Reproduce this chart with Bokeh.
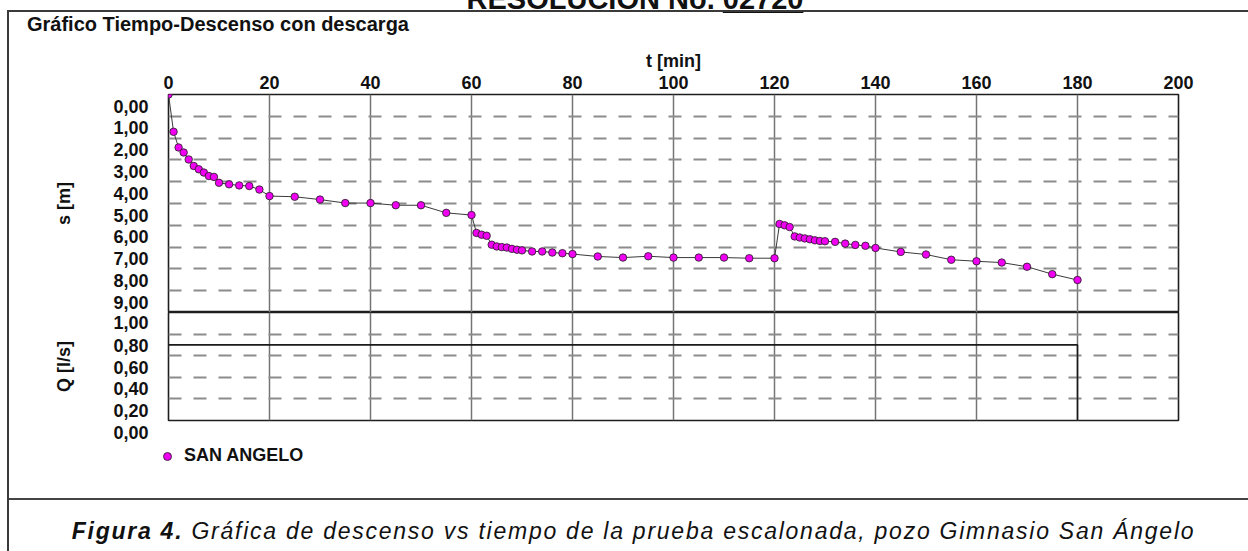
from bokeh.plotting import figure
from bokeh.models import (Range1d, FixedTicker, CustomJSTickFormatter,
                          Legend, LegendItem, Div)
from bokeh.layouts import column, row
from bokeh.embed import file_html
from bokeh.resources import INLINE

# ---------------- data ----------------
time_min = [0, 1, 2, 3, 4, 5, 6, 7, 8, 9, 10, 12, 14, 16, 18, 20, 25, 30, 35, 40, 45, 50, 55, 60,
            61, 62, 63, 64, 65, 66, 67, 68, 69, 70, 72, 74, 76, 78, 80, 85, 90, 95, 100, 105, 110, 115, 120,
            121, 122, 123, 124, 125, 126, 127, 128, 129, 130, 132, 134, 136, 138, 140, 145, 150, 155, 160,
            165, 170, 175, 180]
drawdown_m = [0.00, 1.71, 2.43, 2.66, 2.98, 3.28, 3.43, 3.58, 3.74, 3.78, 4.05, 4.12, 4.17, 4.20, 4.36,
              4.66, 4.69, 4.82, 4.98, 4.98, 5.08, 5.08, 5.43, 5.53,
              6.35, 6.43, 6.48, 6.89, 6.97, 7.00, 7.02, 7.08, 7.12, 7.15, 7.20, 7.20, 7.25, 7.28, 7.32,
              7.43, 7.48, 7.42, 7.48, 7.48, 7.48, 7.51, 7.51,
              5.94, 6.00, 6.08, 6.51, 6.56, 6.60, 6.64, 6.69, 6.72, 6.73, 6.76, 6.84, 6.90, 6.94, 7.04,
              7.22, 7.34, 7.58, 7.65, 7.71, 7.90, 8.24, 8.51]
q_time = [0, 180, 180]
q_rate = [0.70, 0.70, 0.00]

x_ticks = [0, 20, 40, 60, 80, 100, 120, 140, 160, 180, 200]
s_ticks = [0, 1, 2, 3, 4, 5, 6, 7, 8, 9]
q_ticks = [0.0, 0.2, 0.4, 0.6, 0.8, 1.0]

series_name = "SAN ANGELO"
chart_title = "Gráfico Tiempo-Descenso con descarga"
x_label = "t [min]"
s_label = "s [m]"
q_label = "Q [l/s]"
caption_bold = "Figura 4."
caption_rest = " Gráfica de descenso vs tiempo de la prueba escalonada, pozo Gimnasio San Ángelo"
header_text = "RESOLUCIÓN No. "
header_num = "02720"

# ---------------- style ----------------
FONT = "Liberation Sans"
INK = "#111111"
FRAME = "#1e1e1e"
VGRID = "#747474"
HGRID = "#8c8c8c"
MAGENTA = "#f000f0"

W = 1239
LEFT = 159
RIGHT = 70

# tick labels hang half a row below their gridline, as in the source chart
label_fmt = CustomJSTickFormatter(code="""
const s = tick.toFixed(2).replace('.', ',');
if (ticks.length == 6 && index == ticks.length - 1) { return s; }
return '\\n' + s;
""")


def style_common(p):
    p.outline_line_color = FRAME
    p.outline_line_width = 1.6
    p.background_fill_color = "white"
    p.border_fill_color = "white"


def style_left_axis(ax, ticks, label):
    ax.ticker = FixedTicker(ticks=ticks)
    ax.formatter = label_fmt
    ax.axis_label = label
    ax.axis_label_text_font = FONT
    ax.axis_label_text_font_size = "18px"
    ax.axis_label_text_font_style = "bold"
    ax.axis_label_text_color = INK
    ax.axis_label_standoff = 36
    ax.major_label_text_font = FONT
    ax.major_label_text_font_size = "18px"
    ax.major_label_text_font_style = "bold"
    ax.major_label_text_color = INK
    ax.major_label_standoff = 14
    ax.axis_line_color = None
    ax.major_tick_line_color = None
    ax.minor_tick_line_color = None


def style_grids(p, y_ticks):
    p.xgrid.ticker = FixedTicker(ticks=x_ticks)
    p.xgrid.grid_line_color = VGRID
    p.xgrid.grid_line_width = 1.5
    p.ygrid.ticker = FixedTicker(ticks=y_ticks)
    p.ygrid.grid_line_color = HGRID
    p.ygrid.grid_line_width = 1.8
    p.ygrid.grid_line_dash = "13 12"


# ---------------- title ----------------
title_div = Div(text=chart_title, width=W, height=25, margin=(0, 0, 0, 0),
                styles={"font-family": FONT, "font-weight": "bold", "font-size": "20px",
                        "line-height": "24px", "color": INK, "padding-left": "18px",
                        "box-sizing": "border-box"})

# ---------------- drawdown panel ----------------
top = figure(width=W, height=275, x_range=Range1d(0, 200), y_range=Range1d(10, 0),
             x_axis_location="above", y_axis_location="left",
             output_backend="svg", toolbar_location=None,
             min_border_left=LEFT, min_border_right=RIGHT, min_border_top=57, min_border_bottom=0)
style_common(top)

xa = top.xaxis[0]
xa.ticker = FixedTicker(ticks=x_ticks)
xa.axis_label = x_label
xa.axis_label_text_font = FONT
xa.axis_label_text_font_size = "18px"
xa.axis_label_text_font_style = "bold"
xa.axis_label_text_color = INK
xa.axis_label_standoff = 2
xa.major_label_text_font = FONT
xa.major_label_text_font_size = "18px"
xa.major_label_text_font_style = "bold"
xa.major_label_text_color = INK
xa.major_label_standoff = 0
xa.axis_line_color = None
xa.major_tick_line_color = None
xa.minor_tick_line_color = None

style_left_axis(top.yaxis[0], s_ticks, s_label)
style_grids(top, s_ticks)

top.line(time_min, drawdown_m, line_color="#3a3a3a", line_width=1)
top.scatter(time_min, drawdown_m, size=7.5, fill_color=MAGENTA, line_color="#202020", line_width=0.8)

# ---------------- discharge panel ----------------
q = figure(width=W, height=132, x_range=top.x_range, y_range=Range1d(0, 1),
           x_axis_location=None, y_axis_location="left",
           output_backend="svg", toolbar_location=None,
           min_border_left=LEFT, min_border_right=RIGHT, min_border_top=0, min_border_bottom=24)
style_common(q)
style_left_axis(q.yaxis[0], q_ticks, q_label)
style_grids(q, q_ticks)

q.line(q_time, q_rate, line_color="#1a1a1a", line_width=1.6)

# ---------------- legend strip ----------------
leg = figure(width=W, height=54, x_range=Range1d(0, 1), y_range=Range1d(0, 1),
             x_axis_location=None, y_axis_location=None,
             output_backend="svg", toolbar_location=None,
             min_border_left=0, min_border_right=0, min_border_top=0, min_border_bottom=0)
leg.outline_line_color = None
leg.grid.visible = False
leg.background_fill_color = "white"
leg.border_fill_color = "white"
legend_glyph = leg.scatter(x=[float("nan")], y=[float("nan")], size=7.5, fill_color=MAGENTA,
                           line_color="#202020", line_width=0.8)
legend = Legend(items=[LegendItem(label=series_name, renderers=[legend_glyph])],
                location=(148, 32), orientation="horizontal",
                glyph_width=20, glyph_height=20, label_standoff=7,
                padding=0, margin=0, border_line_color=None, background_fill_alpha=0,
                label_text_font=FONT, label_text_font_size="18px", label_text_font_style="bold",
                label_text_color=INK)
leg.add_layout(legend)
leg_row = row(leg, margin=(0, 0, 0, 0))

# ---------------- caption & header ----------------
caption = Div(text=f"<b><i>{caption_bold}</i></b><i>{caption_rest}</i>", width=W, height=53,
              margin=(0, 0, 0, 0),
              styles={"border-top": "2px solid #444444", "font-family": FONT, "font-size": "23px",
                      "letter-spacing": "1.75px", "text-align": "center", "color": INK,
                      "padding-top": "15px", "padding-left": "10px", "box-sizing": "border-box"})

header = Div(text=f"{header_text}<u>{header_num}</u>", width=1248, height=30, margin=(-17, 0, -13, 0),
             styles={"font-family": FONT, "font-weight": "bold", "font-size": "29px",
                     "text-align": "center", "color": INK, "line-height": "32px",
                     "padding-left": "22px", "box-sizing": "border-box"})

boxed = column(title_div, top, q, leg_row, caption, margin=(10, 0, 0, 7),
               styles={"border-left": "2px solid #3a3a3a", "border-top": "2px solid #3a3a3a"})

root = column(header, boxed)

open("out.html", "w").write(file_html(root, INLINE))
